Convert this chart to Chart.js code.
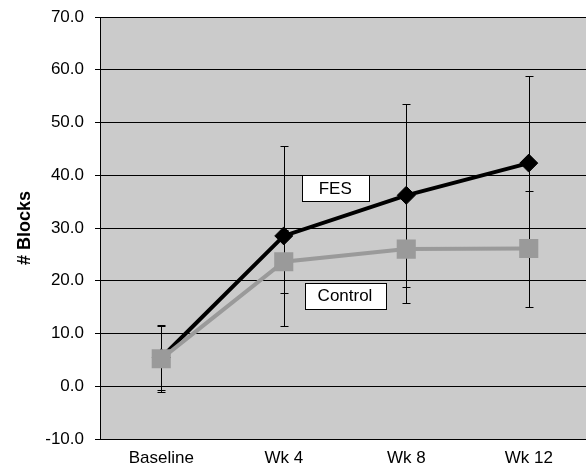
<!DOCTYPE html>
<html>
<head>
<meta charset="utf-8">
<script src="https://cdn.jsdelivr.net/npm/chart.js@4.4.0/dist/chart.umd.min.js"></script>
<style>
  html, body { margin: 0; padding: 0; background: #fff; overflow: hidden; }
  #wrap { width: 590px; height: 468px; position: relative; }
</style>
</head>
<body>
<div id="wrap"><canvas id="chart"></canvas></div>
<script>
const labels = ['Baseline', 'Wk 4', 'Wk 8', 'Wk 12'];
const fesValues = [5.4, 28.5, 36.2, 42.3];
const fesErr = [6.2, 17.0, 17.3, 16.5];
const controlValues = [5.2, 23.6, 26.0, 26.1];
const controlErr = [6.3, 6.0, 10.2, 11.0];
const yTicks = [-10, 0, 10, 20, 30, 40, 50, 60, 70];
const noteTexts = ['FES', 'Control'];

const FONT = '"Liberation Sans", Arial, sans-serif';

const plotBg = {
  id: 'plotBg',
  beforeDraw(chart) {
    const { ctx, chartArea } = chart;
    ctx.save();
    ctx.fillStyle = '#cbcbcb';
    ctx.fillRect(chartArea.left, chartArea.top, chartArea.right - chartArea.left, chartArea.bottom - chartArea.top);
    ctx.restore();
  },
};

const errorBars = {
  id: 'errorBars',
  beforeDatasetsDraw(chart) {
    const { ctx } = chart;
    const x = chart.scales.x;
    const y = chart.scales.y;
    const sets = [[fesValues, fesErr], [controlValues, controlErr]];
    ctx.save();
    ctx.strokeStyle = '#000';
    ctx.lineWidth = 1;
    sets.forEach(([vals, errs]) => {
      vals.forEach((v, i) => {
        const px = Math.round(x.getPixelForValue(i)) + 0.5;
        const top = Math.round(y.getPixelForValue(v + errs[i])) + 0.5;
        const bot = Math.round(y.getPixelForValue(v - errs[i])) + 0.5;
        ctx.beginPath();
        ctx.moveTo(px, top);
        ctx.lineTo(px, bot);
        ctx.moveTo(px - 4, top);
        ctx.lineTo(px + 4, top);
        ctx.moveTo(px - 4, bot);
        ctx.lineTo(px + 4, bot);
        ctx.stroke();
      });
    });
    ctx.restore();
  },
};

// box place (category units, value units) and width for each note
const notePlaces = [[1.42, 37.6, 67], [1.50, 17.2, 81]];

const textBoxes = {
  id: 'textBoxes',
  afterDatasetsDraw(chart) {
    const { ctx } = chart;
    const x = chart.scales.x;
    const y = chart.scales.y;
    const step = x.getPixelForValue(1) - x.getPixelForValue(0);
    ctx.save();
    ctx.font = '17px ' + FONT;
    ctx.textBaseline = 'middle';
    ctx.textAlign = 'center';
    noteTexts.forEach((text, i) => {
      const [xv, yv, w] = notePlaces[i];
      const cx = x.getPixelForValue(0) + xv * step;
      const cy = y.getPixelForValue(yv);
      const h = 26;
      const bx = Math.round(cx - w / 2) + 0.5;
      const by = Math.round(cy - h / 2) + 0.5;
      ctx.fillStyle = '#fff';
      ctx.fillRect(bx, by, w, h);
      ctx.strokeStyle = '#000';
      ctx.lineWidth = 1;
      ctx.strokeRect(bx, by, w, h);
      ctx.fillStyle = '#000';
      ctx.fillText(text, cx, cy + 1);
    });
    ctx.restore();
  },
};

new Chart(document.getElementById('chart'), {
  type: 'line',
  data: {
    labels: labels,
    datasets: [
      {
        label: 'Control',
        data: controlValues,
        borderColor: '#9a9a9a',
        backgroundColor: '#9a9a9a',
        borderWidth: 4,
        pointStyle: 'rect',
        pointRadius: 13.5,
        pointBorderWidth: 0,
        pointHoverRadius: 13.5,
        tension: 0,
        order: 0,
      },
      {
        label: 'FES',
        data: fesValues,
        borderColor: '#000',
        backgroundColor: '#000',
        borderWidth: 4,
        pointStyle: 'rectRot',
        pointRadius: 9,
        pointBorderWidth: 1,
        pointHoverRadius: 9,
        tension: 0,
        order: 1,
      },
    ],
  },
  options: {
    responsive: true,
    maintainAspectRatio: false,
    animation: false,
    layout: {
      autoPadding: false,
      padding: { top: 17, right: 0, bottom: 0, left: 0 },
    },
    plugins: {
      legend: { display: false },
      tooltip: { enabled: false },
    },
    scales: {
      x: {
        offset: true,
        grid: { display: false, drawTicks: false },
        border: { color: '#000' },
        ticks: {
          color: '#000',
          padding: 9,
          font: { family: FONT, size: 17 },
        },
        afterFit(scale) {
          scale.height = 29;
          scale.paddingLeft = 0;
          scale.paddingRight = 0;
        },
      },
      y: {
        min: -10,
        max: 70,
        afterBuildTicks(scale) {
          scale.ticks = yTicks.map((v) => ({ value: v }));
        },
        grid: {
          color: '#000',
          lineWidth: 1,
          tickLength: 5,
        },
        border: { color: '#000' },
        ticks: {
          color: '#000',
          padding: 11,
          font: { family: FONT, size: 17 },
          callback: (v) => Number(v).toFixed(1),
        },
        title: {
          display: true,
          text: '# Blocks',
          color: '#000',
          padding: { top: 14, bottom: 0 },
          font: { family: FONT, size: 18, weight: 'bold' },
        },
        afterFit(scale) {
          scale.width = 100;
          scale.paddingTop = 0;
          scale.paddingBottom = 0;
        },
      },
    },
  },
  plugins: [plotBg, errorBars, textBoxes],
});
</script>
</body>
</html>
